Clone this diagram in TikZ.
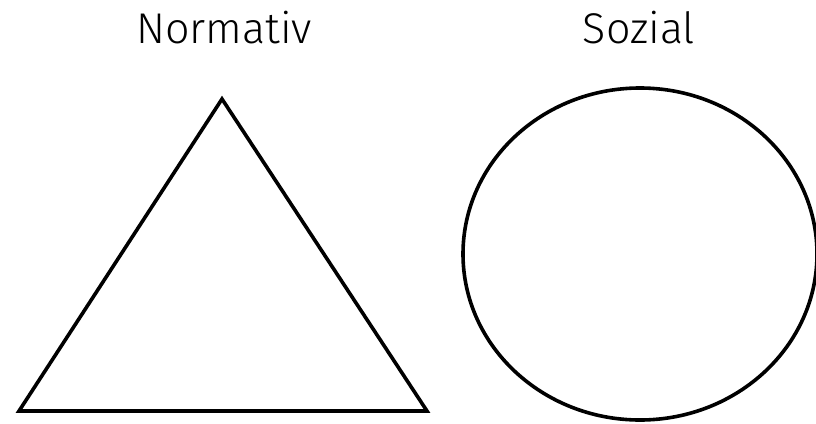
\documentclass[tikz,border=0pt]{standalone}
\usepackage{fontspec}
\setmainfont{Fira Sans}[UprightFont=* Light]
\tikzset{label/.style = {anchor=base, font=\fontsize{43}{50}\selectfont}}

\begin{document}
\begin{tikzpicture}[x=1pt, y=-1pt, line width=3.6pt]
      \useasboundingbox (0,0) rectangle (816,423);
      \node[label] (normativ) at (224,43) {Normativ};
      \node[label] (sozial) at (639,43) {Sozial};
      \draw (19,411) -- (427,411) -- (222,99) -- cycle;
      \draw (640,254) ellipse [x radius=177, y radius=166];
    \end{tikzpicture}
\end{document}
